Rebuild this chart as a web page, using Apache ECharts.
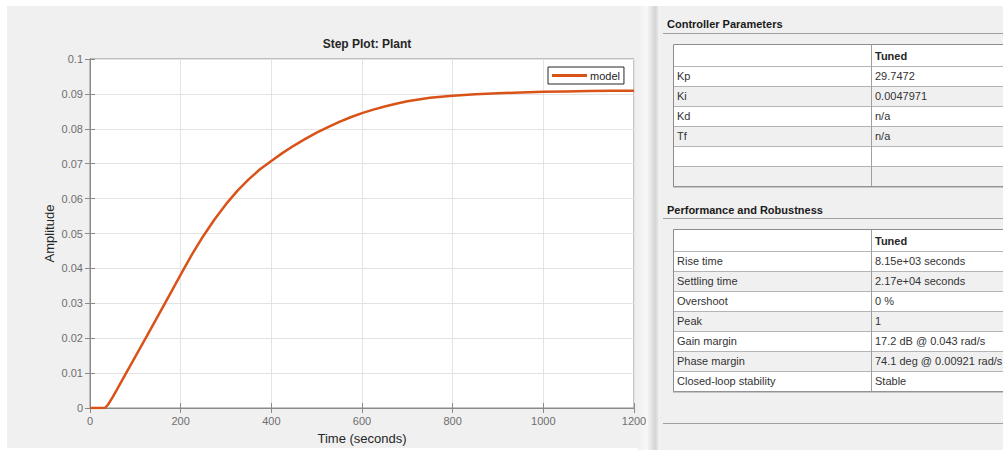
<!DOCTYPE html>
<html>
<head>
<meta charset="utf-8">
<script src="https://cdn.jsdelivr.net/npm/echarts@6/dist/echarts.min.js"></script>
<style>
  html, body { margin: 0; padding: 0; background: #ffffff; }
  #main { width: 1003px; height: 450px; }
</style>
</head>
<body>
<div id="main"></div>
<script>
// Step response of the tuned loop
const times = [0, 25, 33, 40, 50, 60, 75, 100, 125, 150, 175, 200, 225, 250, 275, 300, 325, 350, 375, 400, 425, 450, 475, 500, 525, 550, 575, 600, 625, 650, 675, 700, 750, 800, 850, 900, 950, 1000, 1050, 1100, 1150, 1200];
const amplitude = [0, 0, 0, 0.0010, 0.0031, 0.0054, 0.0089, 0.0147, 0.0205, 0.0264, 0.0323, 0.0382, 0.0440, 0.0493, 0.0541, 0.0584, 0.0622, 0.0655, 0.0684, 0.0708, 0.0731, 0.0752, 0.0771, 0.0789, 0.0805, 0.0820, 0.0833, 0.0845, 0.0855, 0.0864, 0.0872, 0.0879, 0.0889, 0.0895, 0.0899, 0.0902, 0.0904, 0.0906, 0.0907, 0.0908, 0.0909, 0.0909];
const seriesName = 'model';
const xTicks = [0, 200, 400, 600, 800, 1000, 1200];
const yTicks = [0, 0.01, 0.02, 0.03, 0.04, 0.05, 0.06, 0.07, 0.08, 0.09, 0.1];

// Side tables
const controllerTitle = 'Controller Parameters';
const controllerHeader = 'Tuned';
const controllerNames = ['Kp', 'Ki', 'Kd', 'Tf', '', ''];
const controllerValues = ['29.7472', '0.0047971', 'n/a', 'n/a', '', ''];
const perfTitle = 'Performance and Robustness';
const perfHeader = 'Tuned';
const perfNames = ['Rise time', 'Settling time', 'Overshoot', 'Peak', 'Gain margin', 'Phase margin', 'Closed-loop stability'];
const perfValues = ['8.15e+03 seconds', '2.17e+04 seconds', '0 %', '1', '17.2 dB @ 0.043 rad/s', '74.1 deg @ 0.00921 rad/s', 'Stable'];

const FONT = '"Liberation Sans", Arial, sans-serif';
const ORANGE = '#D95319';
const AXIS = '#8a8a8a';

function buildTable(x, y, w, colX, headerH, rowH, header, names, values) {
  const els = [];
  const n = names.length;
  const h = headerH + rowH * n;
  // row backgrounds
  els.push({ type: 'rect', shape: { x: x, y: y, width: w, height: headerH }, style: { fill: '#ffffff' }, z: 1 });
  for (let i = 0; i < n; i++) {
    const ry = y + headerH + i * rowH;
    els.push({ type: 'rect', shape: { x: x, y: ry, width: w, height: rowH }, style: { fill: i % 2 === 0 ? '#ffffff' : '#f0f0f0' }, z: 1 });
    els.push({ type: 'line', shape: { x1: x, y1: ry + 0.5, x2: x + w, y2: ry + 0.5 }, style: { stroke: '#b4b4b4', lineWidth: 1 }, z: 2 });
    els.push({ type: 'text', style: { text: names[i], x: x + 4, y: ry + rowH / 2, font: '11px ' + FONT, fill: '#333333', verticalAlign: 'middle', align: 'left' }, z: 3 });
    els.push({ type: 'text', style: { text: values[i], x: colX + 4, y: ry + rowH / 2, font: '11px ' + FONT, fill: '#333333', verticalAlign: 'middle', align: 'left' }, z: 3 });
  }
  els.push({ type: 'text', style: { text: header, x: colX + 4, y: y + headerH / 2 + 1, font: 'bold 11px ' + FONT, fill: '#262626', verticalAlign: 'middle', align: 'left' }, z: 3 });
  // borders
  els.push({ type: 'line', shape: { x1: colX + 0.5, y1: y, x2: colX + 0.5, y2: y + h }, style: { stroke: '#a0a0a0', lineWidth: 1 }, z: 2 });
  els.push({ type: 'rect', shape: { x: x + 0.5, y: y + 0.5, width: w, height: h }, style: { fill: 'none', stroke: '#8c8c8c', lineWidth: 1 }, z: 4 });
  els.push({ type: 'line', shape: { x1: x, y1: y + h + 1, x2: x + w, y2: y + h + 1 }, style: { stroke: '#9a9a9a', lineWidth: 1 }, z: 4 });
  return els;
}

const graphics = [
  // panels
  { type: 'rect', shape: { x: 7, y: 6, width: 640, height: 442 }, style: { fill: '#f0f0f0' }, z: -10 },
  { type: 'rect', shape: { x: 638, y: 6, width: 20, height: 444 },
    style: { fill: new echarts.graphic.LinearGradient(0, 0, 1, 0, [
      { offset: 0, color: '#f0f0f0' }, { offset: 0.45, color: '#f8f8f8' },
      { offset: 0.85, color: '#d4d4d4' }, { offset: 1, color: '#e4e4e4' }]) }, z: -10 },
  { type: 'rect', shape: { x: 658, y: 6, width: 345, height: 444 }, style: { fill: '#f0f0f0' }, z: -10 },
  // section titles and rules
  { type: 'text', style: { text: controllerTitle, x: 667, y: 24, font: 'bold 11px ' + FONT, fill: '#1a1a1a', verticalAlign: 'middle' }, z: 3 },
  { type: 'line', shape: { x1: 663, y1: 33.5, x2: 1003, y2: 33.5 }, style: { stroke: '#a0a0a0', lineWidth: 1 }, z: 2 },
  { type: 'text', style: { text: perfTitle, x: 667, y: 210, font: 'bold 11px ' + FONT, fill: '#1a1a1a', verticalAlign: 'middle' }, z: 3 },
  { type: 'line', shape: { x1: 663, y1: 218.5, x2: 1003, y2: 218.5 }, style: { stroke: '#a0a0a0', lineWidth: 1 }, z: 2 },
  { type: 'line', shape: { x1: 663, y1: 423.5, x2: 1003, y2: 423.5 }, style: { stroke: '#a0a0a0', lineWidth: 1 }, z: 2 }
].concat(
  buildTable(673, 44, 340, 871, 22, 20, controllerHeader, controllerNames, controllerValues),
  buildTable(673, 229, 340, 871, 22, 20, perfHeader, perfNames, perfValues)
);

const chart = echarts.init(document.getElementById('main'), null, { renderer: 'svg' });
chart.setOption({
  animation: false,
  backgroundColor: '#ffffff',
  title: {
    text: 'Step Plot: Plant', left: 362, top: 33, textAlign: 'center',
    textStyle: { fontFamily: FONT, fontSize: 12, fontWeight: 'bold', color: '#262626' }
  },
  legend: {
    data: [seriesName], left: 548, top: 67, padding: [3, 4, 3, 4],
    backgroundColor: '#ffffff', borderColor: '#262626', borderWidth: 1,
    icon: 'rect', itemWidth: 35, itemHeight: 3, itemGap: 4,
    textStyle: { fontFamily: FONT, fontSize: 11, color: '#262626', padding: [0, 0, 0, -2] }
  },
  graphic: graphics,
  grid: { left: 90, top: 59, width: 544, height: 359, show: true, backgroundColor: '#ffffff', borderColor: AXIS, borderWidth: 1 },
  xAxis: [{
    type: 'value', min: xTicks[0], max: xTicks[xTicks.length - 1], interval: xTicks[1] - xTicks[0],
    name: 'Time (seconds)', nameLocation: 'middle', nameGap: 24, nameMoveOverlap: false,
    nameTextStyle: { fontFamily: FONT, fontSize: 13, color: '#262626' },
    axisLine: { lineStyle: { color: AXIS } },
    axisTick: { inside: true, length: 5, lineStyle: { color: AXIS } },
    axisLabel: { fontFamily: FONT, fontSize: 11, color: '#6e6e6e', margin: 7, formatter: v => String(v) },
    splitLine: { show: true, lineStyle: { color: '#e3e3e3', width: 1 } }
  }, {
    type: 'value', position: 'top', min: xTicks[0], max: xTicks[xTicks.length - 1], interval: xTicks[1] - xTicks[0],
    axisLine: { lineStyle: { color: AXIS } },
    axisTick: { inside: true, length: 5, lineStyle: { color: AXIS } },
    axisLabel: { show: false }, splitLine: { show: false }
  }],
  yAxis: [{
    type: 'value', min: yTicks[0], max: yTicks[yTicks.length - 1], interval: 0.01,
    name: 'Amplitude', nameLocation: 'middle', nameGap: 34, nameMoveOverlap: false,
    nameTextStyle: { fontFamily: FONT, fontSize: 13, color: '#262626' },
    axisLine: { show: true, lineStyle: { color: AXIS } },
    axisTick: { show: true, inside: true, length: 5, lineStyle: { color: AXIS } },
    axisLabel: { fontFamily: FONT, fontSize: 11, color: '#6e6e6e', margin: 7,
      formatter: v => String(+v.toFixed(2)) },
    splitLine: { show: true, lineStyle: { color: '#e3e3e3', width: 1 } }
  }, {
    type: 'value', position: 'right', min: yTicks[0], max: yTicks[yTicks.length - 1], interval: 0.01,
    axisLine: { show: true, lineStyle: { color: AXIS } },
    axisTick: { show: true, inside: true, length: 5, lineStyle: { color: AXIS } },
    axisLabel: { show: false }, splitLine: { show: false }
  }],
  series: [{
    name: seriesName, type: 'line', xAxisIndex: 0, yAxisIndex: 0,
    data: times.map((t, i) => [t, amplitude[i]]),
    showSymbol: false, smooth: false,
    lineStyle: { color: ORANGE, width: 2.5 }, itemStyle: { color: ORANGE },
    clip: true
  }]
});
</script>
</body>
</html>
